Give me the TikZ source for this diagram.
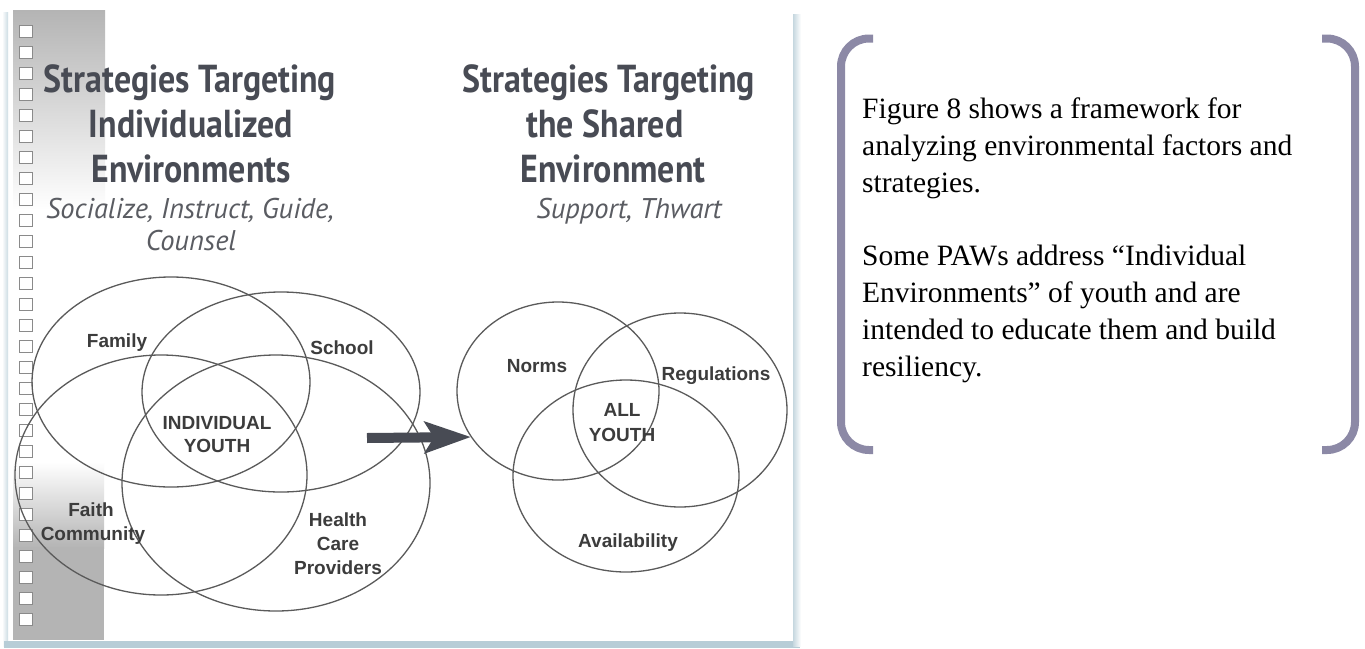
\documentclass[tikz,border=0pt]{standalone}
\usepackage{fontspec}
\setmainfont{Liberation Serif}
\newfontfamily\headfont[FakeStretch=0.87]{PT Sans}
\newfontfamily\subfont{PT Sans}
\newfontfamily\labfont{Liberation Sans}
\usetikzlibrary{arrows.meta}
\definecolor{headc}{HTML}{484B54}
\definecolor{subc}{HTML}{5A5C62}
\definecolor{linec}{HTML}{5A5A5A}
\definecolor{labc}{HTML}{3C3C3C}
\definecolor{brackc}{HTML}{8C89A6}
\definecolor{shadowc}{HTML}{B7CDD7}
\definecolor{boxc}{HTML}{8A8A8A}
\definecolor{stripc}{HTML}{B4B4B4}
\tikzset{
  headtext/.style={anchor=base, inner sep=0pt, text=headc, font=\headfont\bfseries\fontsize{39}{44}\selectfont},
  subtext/.style={anchor=base, inner sep=0pt, text=subc, font=\subfont\itshape\fontsize{28.5}{32}\selectfont},
  venn/.style={draw=linec, line width=1.3pt},
  vlabel/.style={anchor=base, inner sep=0pt, text=labc, font=\labfont\bfseries\fontsize{19}{23}\selectfont},
  bodytext/.style={anchor=base west, inner sep=0pt, text=black, font=\fontsize{29.5}{37}\selectfont},
  bracketline/.style={draw=brackc, line width=8pt, rounded corners=28pt},
  checkbox/.style={draw=boxc, fill=white, line width=1pt},
  bigarrow/.style={draw=headc, line width=10pt, -{Stealth[length=46pt, width=31pt, inset=9pt]}}
}
\begin{document}
\begin{tikzpicture}[x=1pt,y=-1pt]
\useasboundingbox (0,0) rectangle (1365,648);
\fill[white] (0,0) rectangle (1365,648);
% frame shadow
\shade[left color=white, right color=shadowc!70] (2,12) rectangle (8,646);
\fill[shadowc] (4,641) rectangle (800,648);
\shade[left color=shadowc!80, right color=white] (793,14) rectangle (801,646);
% gray strips
\shade[top color=stripc, bottom color=white] (13,10) rectangle (105,210);
\shade[top color=white, bottom color=stripc] (13,462) rectangle (104,548);
\fill[stripc] (13,547) rectangle (104,640);
% checkboxes
\foreach \i in {0,...,28} {
  \draw[checkbox] (19,25+21*\i) rectangle (32,37+21*\i);
}
% left header
\node[headtext] (lh1) at (190,92) {Strategies Targeting};
\node[headtext] (lh2) at (191,137) {Individualized};
\node[headtext] (lh3) at (191,182) {Environments};
\node[subtext] (ls1) at (190,218) {Socialize, Instruct, Guide,};
\node[subtext] (ls2) at (191,250) {Counsel};
% right header
\node[headtext] (rh1) at (609,92) {Strategies Targeting};
\node[headtext] (rh2) at (605,137) {the Shared};
\node[headtext] (rh3) at (613,182) {Environment};
\node[subtext] (rs1) at (629,218) {Support, Thwart};
% left venn
\draw[venn] (171,382) ellipse [x radius=139pt, y radius=105pt];
\draw[venn] (281,392) ellipse [x radius=139pt, y radius=100pt];
\draw[venn] (161,475) ellipse [x radius=146pt, y radius=120pt];
\draw[venn] (276,483) ellipse [x radius=154pt, y radius=128pt];
\node[vlabel] (family) at (117,347) {Family};
\node[vlabel] (school) at (342,354) {School};
\node[vlabel] (ind1) at (217,429) {INDIVIDUAL};
\node[vlabel] (ind2) at (217,452) {YOUTH};
\node[vlabel] (faith1) at (91,516) {Faith};
\node[vlabel] (faith2) at (93,540) {Community};
\node[vlabel] (hc1) at (338,526) {Health};
\node[vlabel] (hc2) at (338,550) {Care};
\node[vlabel] (hc3) at (338,574) {Providers};
% arrow
\coordinate (arrowTail) at (367,438);
\coordinate (arrowTip) at (471,437);
\draw[bigarrow] (arrowTail) -- (arrowTip);
% right venn
\draw[venn] (558,391) ellipse [x radius=101pt, y radius=89pt];
\draw[venn] (680,410) ellipse [x radius=107pt, y radius=97pt];
\draw[venn] (626,476) ellipse [x radius=113pt, y radius=96pt];
\node[vlabel] (norms) at (537,372) {Norms};
\node[vlabel] (regs) at (716,380) {Regulations};
\node[vlabel] (all1) at (622,416) {ALL};
\node[vlabel] (all2) at (622,441) {YOUTH};
\node[vlabel] (avail) at (628,547) {Availability};
% bracket box
\draw[bracketline] (873,38.5) -- (841,38.5) -- (841,450) -- (873,450);
\draw[bracketline] (1322,38.5) -- (1355,38.5) -- (1355,450) -- (1322,450);
\node[bodytext] (t1) at (862,118) {Figure 8 shows a framework for};
\node[bodytext] (t2) at (862,155) {analyzing environmental factors and};
\node[bodytext] (t3) at (862,192) {strategies.};
\node[bodytext] (t4) at (862,265) {Some PAWs address “Individual};
\node[bodytext] (t5) at (862,302) {Environments” of youth and are};
\node[bodytext] (t6) at (862,339) {intended to educate them and build};
\node[bodytext] (t7) at (862,376) {resiliency.};
\end{tikzpicture}
\end{document}
